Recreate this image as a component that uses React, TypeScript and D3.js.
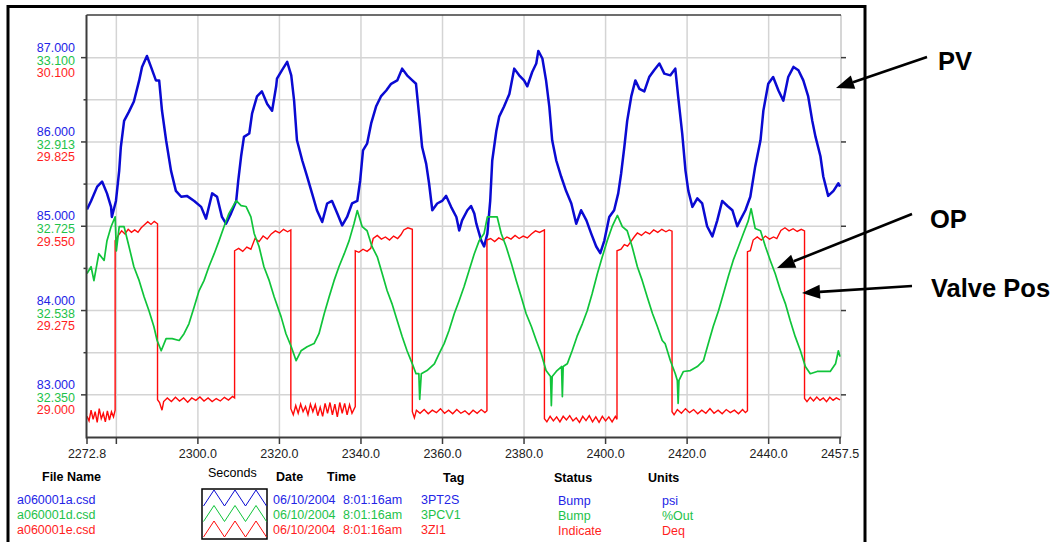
import React from 'react';
import * as d3 from 'd3';

// PV (psi)
const pvData: [number, number][] = [
  [2272.8, 85.2], [2273.8, 85.3], [2275.3, 85.47], [2276.5, 85.53], [2277.7, 85.39], [2278.7, 85.23],
  [2278.9, 85.11], [2279.9, 85.3], [2280.7, 85.66], [2281.1, 85.94], [2281.9, 86.25], [2283.1, 86.36],
  [2284.3, 86.48], [2285.6, 86.73], [2286.3, 86.89], [2287.5, 87.02], [2288.5, 86.89], [2289.7, 86.73],
  [2290.5, 86.73], [2291.2, 86.37], [2292.2, 86.02], [2293.4, 85.66], [2294.6, 85.42], [2295.9, 85.35],
  [2297.3, 85.36], [2299.1, 85.3], [2300.8, 85.23], [2302.0, 85.09], [2303.5, 85.39], [2304.7, 85.35],
  [2305.9, 85.11], [2306.9, 85.03], [2308.1, 85.15], [2309.4, 85.3], [2309.9, 85.54], [2310.6, 85.83],
  [2311.3, 86.06], [2312.6, 86.1], [2313.3, 86.34], [2314.5, 86.54], [2315.7, 86.6], [2317.0, 86.45],
  [2318.2, 86.37], [2319.2, 86.66], [2319.4, 86.75], [2320.6, 86.85], [2321.9, 86.95], [2322.9, 86.79],
  [2323.6, 86.49], [2324.3, 86.02], [2325.6, 85.78], [2326.8, 85.59], [2328.0, 85.39], [2329.2, 85.19],
  [2330.5, 85.05], [2331.7, 85.27], [2332.9, 85.3], [2334.2, 85.15], [2335.4, 85.01], [2336.6, 85.11],
  [2337.8, 85.27], [2339.1, 85.3], [2339.8, 85.54], [2340.5, 85.9], [2341.5, 85.98], [2342.5, 86.22],
  [2343.7, 86.42], [2344.9, 86.54], [2346.2, 86.61], [2347.4, 86.69], [2348.9, 86.73], [2350.1, 86.87],
  [2351.3, 86.79], [2352.6, 86.73], [2353.5, 86.69], [2354.3, 86.3], [2355.0, 85.94], [2356.0, 85.74],
  [2356.7, 85.51], [2357.5, 85.19], [2358.7, 85.27], [2359.9, 85.3], [2360.9, 85.36], [2362.1, 85.23],
  [2363.4, 85.11], [2364.1, 84.95], [2364.8, 85.07], [2366.1, 85.19], [2367.0, 85.24], [2367.8, 85.15],
  [2368.3, 85.03], [2369.5, 84.83], [2370.2, 84.76], [2371.0, 84.91], [2371.7, 85.3], [2372.2, 85.78],
  [2373.2, 86.13], [2373.9, 86.3], [2375.1, 86.42], [2376.4, 86.57], [2377.6, 86.87], [2378.8, 86.79],
  [2380.0, 86.73], [2380.8, 86.66], [2382.0, 86.83], [2383.0, 86.93], [2383.5, 87.08], [2384.5, 86.99],
  [2385.4, 86.73], [2386.2, 86.42], [2386.9, 86.02], [2387.9, 85.78], [2389.1, 85.59], [2390.3, 85.42],
  [2391.6, 85.27], [2392.8, 85.03], [2394.0, 85.19], [2395.3, 85.07], [2396.5, 84.91], [2397.7, 84.76],
  [2398.7, 84.68], [2399.7, 84.83], [2400.9, 85.11], [2402.1, 85.19], [2403.1, 85.39], [2403.8, 85.62],
  [2404.6, 85.94], [2405.3, 86.25], [2406.3, 86.54], [2407.3, 86.73], [2408.3, 86.63], [2409.5, 86.6],
  [2410.7, 86.77], [2411.9, 86.85], [2413.2, 86.93], [2414.4, 86.81], [2415.9, 86.79], [2417.1, 86.87],
  [2417.8, 86.54], [2418.8, 86.1], [2419.6, 85.66], [2420.3, 85.42], [2421.3, 85.23], [2422.5, 85.33],
  [2423.7, 85.27], [2424.9, 85.0], [2426.2, 84.88], [2427.4, 85.07], [2428.6, 85.3], [2429.9, 85.24],
  [2431.1, 85.19], [2432.3, 85.0], [2433.0, 85.07], [2434.3, 85.19], [2435.5, 85.35], [2436.7, 85.71],
  [2438.0, 86.02], [2438.7, 86.37], [2439.9, 86.69], [2441.1, 86.77], [2442.4, 86.61], [2443.6, 86.49],
  [2444.8, 86.77], [2446.1, 86.89], [2447.3, 86.85], [2448.5, 86.73], [2449.7, 86.54], [2450.7, 86.25],
  [2451.5, 86.06], [2452.7, 85.83], [2453.4, 85.59], [2454.6, 85.36], [2455.9, 85.42], [2457.1, 85.51],
  [2457.5, 85.47],
];

// OP (%Out)
const opData: [number, number][] = [
  [2272.8, 32.62], [2273.8, 32.635], [2274.5, 32.604], [2275.7, 32.664], [2277.0, 32.649], [2277.7, 32.693],
  [2278.7, 32.724], [2279.7, 32.746], [2280.0, 32.67], [2280.7, 32.724], [2281.9, 32.724], [2283.1, 32.68],
  [2284.3, 32.635], [2285.6, 32.604], [2286.8, 32.568], [2288.0, 32.537], [2289.2, 32.502], [2290.0, 32.471],
  [2291.0, 32.448], [2292.2, 32.475], [2293.7, 32.475], [2295.4, 32.471], [2296.6, 32.486], [2297.8, 32.508],
  [2299.1, 32.546], [2300.3, 32.582], [2301.5, 32.604], [2302.7, 32.635], [2304.0, 32.664], [2305.2, 32.693],
  [2306.4, 32.724], [2307.6, 32.753], [2309.4, 32.782], [2310.6, 32.771], [2311.8, 32.769], [2313.0, 32.746],
  [2313.8, 32.709], [2315.0, 32.68], [2316.2, 32.635], [2317.5, 32.604], [2318.7, 32.568], [2320.4, 32.524],
  [2321.6, 32.486], [2322.9, 32.457], [2324.1, 32.426], [2325.3, 32.448], [2326.8, 32.457], [2328.5, 32.464],
  [2329.7, 32.486], [2331.0, 32.531], [2332.2, 32.568], [2333.4, 32.604], [2334.6, 32.635], [2335.9, 32.664],
  [2337.1, 32.693], [2338.3, 32.731], [2339.1, 32.76], [2340.3, 32.724], [2341.5, 32.715], [2342.7, 32.68],
  [2344.0, 32.657], [2345.2, 32.62], [2346.4, 32.582], [2347.6, 32.553], [2348.9, 32.515], [2350.1, 32.48],
  [2351.3, 32.448], [2352.6, 32.419], [2353.5, 32.397], [2354.2, 32.397], [2354.4, 32.34], [2354.8, 32.397],
  [2356.2, 32.404], [2358.0, 32.419], [2359.2, 32.442], [2360.4, 32.464], [2361.6, 32.493], [2362.9, 32.531],
  [2364.1, 32.56], [2365.3, 32.591], [2366.5, 32.626], [2367.8, 32.664], [2369.0, 32.693], [2370.2, 32.709],
  [2371.0, 32.746], [2372.2, 32.746], [2373.4, 32.746], [2374.4, 32.709], [2375.6, 32.68], [2376.9, 32.642],
  [2378.1, 32.604], [2379.3, 32.568], [2380.5, 32.531], [2381.8, 32.502], [2383.0, 32.471], [2384.2, 32.442],
  [2385.4, 32.404], [2386.5, 32.391], [2386.7, 32.326], [2386.9, 32.391], [2387.9, 32.402], [2389.2, 32.413],
  [2389.4, 32.346], [2389.6, 32.413], [2390.6, 32.419], [2391.8, 32.448], [2393.0, 32.48], [2394.3, 32.508],
  [2395.5, 32.537], [2396.7, 32.575], [2398.0, 32.62], [2399.2, 32.657], [2400.4, 32.693], [2401.6, 32.724],
  [2402.9, 32.749], [2404.1, 32.724], [2405.3, 32.715], [2406.5, 32.68], [2407.8, 32.635], [2409.0, 32.604],
  [2410.2, 32.568], [2411.5, 32.531], [2412.7, 32.502], [2413.9, 32.471], [2414.6, 32.464], [2415.9, 32.426],
  [2417.1, 32.397], [2417.6, 32.382], [2417.8, 32.331], [2418.0, 32.382], [2419.1, 32.402], [2420.8, 32.404],
  [2422.5, 32.413], [2424.0, 32.426], [2425.2, 32.464], [2426.4, 32.502], [2427.7, 32.537], [2428.9, 32.575],
  [2430.1, 32.613], [2431.3, 32.649], [2432.6, 32.68], [2433.8, 32.709], [2435.0, 32.737], [2435.7, 32.764],
  [2436.7, 32.72], [2438.0, 32.715], [2439.2, 32.68], [2440.4, 32.649], [2441.6, 32.62], [2442.9, 32.582],
  [2444.1, 32.553], [2445.3, 32.515], [2446.5, 32.48], [2447.8, 32.448], [2449.0, 32.413], [2450.2, 32.397],
  [2451.9, 32.402], [2453.4, 32.402], [2455.1, 32.402], [2456.4, 32.419], [2457.1, 32.448], [2457.5, 32.435],
];

// Valve position (Deg) – steps with the visible jitter of the trace
const valveData: [number, number][] = [
  [2272.8, 28.93], [2273.3, 28.915], [2273.8, 28.95], [2274.3, 28.92], [2274.8, 28.945], [2275.3, 28.91],
  [2275.8, 28.955], [2276.3, 28.922], [2276.8, 28.94], [2277.3, 28.912], [2277.8, 28.948], [2278.3, 28.918],
  [2278.8, 28.945], [2279.3, 28.928], [2279.7, 28.95], [2279.7, 29.503],
  [2280.5, 29.52], [2281.3, 29.535], [2282.1, 29.525], [2282.9, 29.54], [2283.7, 29.53], [2284.5, 29.538],
  [2285.3, 29.53], [2286.1, 29.545], [2286.9, 29.555], [2287.7, 29.565], [2288.5, 29.556], [2289.3, 29.566],
  [2290.1, 29.558], [2290.1, 28.984],
  [2290.6, 28.975], [2291.2, 28.95], [2291.6, 28.978], [2292.5, 28.99], [2293.5, 28.978], [2294.5, 28.992],
  [2295.5, 28.98], [2296.5, 28.99], [2297.5, 28.976], [2298.5, 28.99], [2299.5, 28.982], [2300.5, 28.993],
  [2301.5, 28.98], [2302.5, 28.99], [2303.5, 28.978], [2304.5, 28.988], [2305.5, 28.98], [2306.5, 28.992],
  [2307.5, 28.983], [2308.5, 28.995], [2309.0, 28.99], [2309.0, 29.47],
  [2310.0, 29.478], [2311.0, 29.468], [2312.0, 29.482], [2313.0, 29.475], [2314.0, 29.51], [2315.0, 29.5],
  [2316.0, 29.518], [2317.0, 29.508], [2318.0, 29.525], [2319.0, 29.535], [2320.0, 29.528], [2321.0, 29.54],
  [2322.0, 29.532], [2322.8, 29.538], [2322.8, 28.955],
  [2323.4, 28.935], [2324.0, 28.965], [2324.6, 28.94], [2325.2, 28.97], [2325.8, 28.945], [2326.4, 28.962],
  [2327.0, 28.935], [2327.6, 28.97], [2328.2, 28.945], [2328.8, 28.968], [2329.4, 28.932], [2330.0, 28.96],
  [2330.6, 28.93], [2331.2, 28.972], [2331.8, 28.94], [2332.4, 28.975], [2333.0, 28.935], [2333.6, 28.97],
  [2334.2, 28.928], [2334.8, 28.975], [2335.4, 28.94], [2336.0, 28.972], [2336.6, 28.935], [2337.2, 28.968],
  [2337.8, 28.94], [2338.6, 28.962], [2338.6, 29.47],
  [2339.5, 29.465], [2340.5, 29.475], [2341.5, 29.468], [2342.4, 29.478], [2343.0, 29.51], [2344.0, 29.52],
  [2345.0, 29.508], [2346.0, 29.515], [2347.0, 29.505], [2348.0, 29.518], [2349.0, 29.51], [2349.8, 29.522],
  [2350.5, 29.538], [2351.5, 29.545], [2352.6, 29.54], [2352.6, 28.945],
  [2353.1, 28.925], [2353.6, 28.95], [2354.5, 28.94], [2355.5, 28.952], [2356.5, 28.938], [2357.5, 28.95],
  [2358.5, 28.942], [2359.5, 28.955], [2360.5, 28.94], [2361.5, 28.95], [2362.5, 28.938], [2363.5, 28.952],
  [2364.5, 28.94], [2365.5, 28.948], [2366.5, 28.936], [2367.5, 28.95], [2368.5, 28.94], [2369.5, 28.952],
  [2370.4, 28.942], [2370.9, 28.948], [2370.9, 29.505],
  [2371.8, 29.51], [2372.8, 29.5], [2373.8, 29.512], [2374.8, 29.505], [2375.8, 29.515], [2376.8, 29.508],
  [2377.8, 29.52], [2378.8, 29.51], [2379.8, 29.518], [2380.8, 29.512], [2381.8, 29.525], [2382.8, 29.535],
  [2383.8, 29.53], [2385.0, 29.538], [2385.0, 28.922],
  [2385.6, 28.912], [2386.4, 28.93], [2387.2, 28.915], [2388.0, 28.928], [2388.8, 28.912], [2389.6, 28.93],
  [2390.4, 28.918], [2391.2, 28.932], [2392.0, 28.915], [2392.8, 28.925], [2393.6, 28.91], [2394.4, 28.93],
  [2395.2, 28.916], [2396.0, 28.932], [2396.8, 28.912], [2397.6, 28.928], [2398.4, 28.91], [2399.2, 28.93],
  [2400.0, 28.915], [2400.8, 28.928], [2401.6, 28.912], [2402.4, 28.93], [2402.8, 28.92], [2402.8, 29.47],
  [2403.8, 29.475], [2404.6, 29.49], [2405.4, 29.485], [2406.2, 29.5], [2407.0, 29.515], [2407.8, 29.528],
  [2408.8, 29.52], [2409.8, 29.532], [2410.8, 29.525], [2411.8, 29.538], [2412.8, 29.53], [2413.8, 29.54],
  [2414.8, 29.532], [2415.6, 29.538], [2416.3, 29.534], [2416.3, 28.945],
  [2416.8, 28.935], [2417.6, 28.952], [2418.6, 28.94], [2419.6, 28.955], [2420.6, 28.942], [2421.6, 28.952],
  [2422.6, 28.938], [2423.6, 28.95], [2424.6, 28.94], [2425.6, 28.955], [2426.6, 28.94], [2427.6, 28.95],
  [2428.6, 28.938], [2429.6, 28.952], [2430.6, 28.942], [2431.6, 28.95], [2432.6, 28.938], [2433.6, 28.952],
  [2434.3, 28.942], [2434.8, 28.948], [2434.8, 29.467],
  [2435.5, 29.47], [2436.2, 29.505], [2437.2, 29.515], [2438.2, 29.505], [2439.2, 29.518], [2440.2, 29.508],
  [2441.2, 29.515], [2442.0, 29.51], [2443.0, 29.536], [2444.0, 29.545], [2445.0, 29.535], [2446.0, 29.542],
  [2447.0, 29.533], [2448.0, 29.54], [2448.8, 29.535], [2448.8, 28.988],
  [2449.4, 28.978], [2450.2, 28.992], [2451.0, 28.98], [2451.8, 28.993], [2452.6, 28.982], [2453.4, 28.99],
  [2454.2, 28.978], [2455.0, 28.992], [2455.8, 28.982], [2456.6, 28.99], [2457.5, 28.984],
];

const xTicks = [2272.8, 2280, 2300, 2320, 2340, 2360, 2380, 2400, 2420, 2440, 2457.5];
const xGrid = [2280, 2300, 2320, 2340, 2360, 2380, 2400, 2420, 2440];
const unlabeledX = [2280];
const pvTicks = [83, 84, 85, 86, 87];
const opTicks = [32.35, 32.538, 32.725, 32.913, 33.1];
const valveTicks = [29.0, 29.275, 29.55, 29.825, 30.1];

const fileNames = ['a060001a.csd', 'a060001d.csd', 'a060001e.csd'];
const dates = ['06/10/2004', '06/10/2004', '06/10/2004'];
const times = ['8:01:16am', '8:01:16am', '8:01:16am'];
const tags = ['3PT2S', '3PCV1', '3ZI1'];
const statuses = ['Bump', 'Bump', 'Indicate'];
const units = ['psi', '%Out', 'Deq'];

const lineColors = ['#0a0ad2', '#10c43a', '#ff0a0a'];
const textColors = ['#2424e6', '#1ec24a', '#ff1e1e'];

const FONT = '"Liberation Sans", Arial, sans-serif';

const Arrow = ({ x1, y1, x2, y2 }: { x1: number; y1: number; x2: number; y2: number }) => {
  const a = Math.atan2(y2 - y1, x2 - x1);
  const len = 18, half = 7;
  const bx = x2 - len * Math.cos(a), by = y2 - len * Math.sin(a);
  const p1 = [bx + half * Math.sin(a), by - half * Math.cos(a)];
  const p2 = [bx - half * Math.sin(a), by + half * Math.cos(a)];
  return (
    <g>
      <line x1={x1} y1={y1} x2={bx} y2={by} stroke="#000" strokeWidth={2.6} />
      <polygon points={`${x2},${y2} ${p1.join(',')} ${p2.join(',')}`} fill="#000" />
    </g>
  );
};

export default function App() {
  const left = 86.5, right = 841, top = 15, bottom = 437.5;
  const x = d3.scaleLinear().domain([2272.8, 2457.5]).range([87, 840]);
  const yPV = d3.scaleLinear().domain([82.5, 87.5]).range([437, 15.5]);
  const yOP = d3.scaleLinear().domain([32.35, 33.1]).range([yPV(83), yPV(87)]);
  const yValve = d3.scaleLinear().domain([29.0, 30.1]).range([yPV(83), yPV(87)]);

  const lineFor = (y: d3.ScaleLinear<number, number>) =>
    d3.line<[number, number]>().x(d => x(d[0])).y(d => y(d[1]));

  const hGrid = d3.range(83, 87.01, 0.5);

  // legend swatch: three small zigzags
  const zig = (row: number) => {
    const y0 = 490 + row * 15.5;
    const pts: [number, number][] = [];
    for (let i = 0; i <= 6; i++) pts.push([203.5 + i * 10.5, i % 2 === 0 ? y0 + 16 : y0]);
    return d3.line()(pts) || '';
  };

  const rowY = (i: number) => 503.5 + i * 15;

  return (
    <svg width={1057} height={542} style={{ position: 'absolute', left: 0, top: 0, background: '#fff' }}
      fontFamily={FONT}>
      <rect x={0} y={0} width={1057} height={542} fill="#fff" />
      {/* outer frame */}
      <rect x={8} y={6.5} width={857} height={545} fill="none" stroke="#000" strokeWidth={3} />

      {/* grid */}
      {xGrid.map(t => (
        <line key={'vg' + t} x1={x(t)} x2={x(t)} y1={top} y2={bottom} stroke="#d4d4d4" strokeWidth={1.5} />
      ))}
      {hGrid.map(v => (
        <line key={'hg' + v} x1={left} x2={right} y1={yPV(v)} y2={yPV(v)} stroke="#d4d4d4" strokeWidth={1.5} />
      ))}
      <line x1={right} x2={right} y1={top} y2={bottom} stroke="#c8c8c8" strokeWidth={1.5} />

      {/* series */}
      <path d={lineFor(yPV)(pvData) || ''} fill="none" stroke={lineColors[0]} strokeWidth={2.5} strokeLinejoin="round" />
      <path d={lineFor(yValve)(valveData) || ''} fill="none" stroke={lineColors[2]} strokeWidth={1.4} />
      <path d={lineFor(yOP)(opData) || ''} fill="none" stroke={lineColors[1]} strokeWidth={1.7} strokeLinejoin="round" />

      {/* axes */}
      <line x1={left} x2={right} y1={top} y2={top} stroke="#3c3c3c" strokeWidth={1.5} />
      <line x1={left} x2={left} y1={top} y2={bottom + 1} stroke="#3c3c3c" strokeWidth={2} />
      <line x1={left} x2={right} y1={bottom} y2={bottom} stroke="#3c3c3c" strokeWidth={2} />
      {hGrid.map(v => {
        const major = Number.isInteger(v);
        return (
          <g key={'tk' + v}>
            <line x1={major ? 81 : 83.5} x2={left} y1={yPV(v)} y2={yPV(v)} stroke="#3c3c3c" strokeWidth={1.5} />
            {major && <line x1={right} x2={right + 5} y1={yPV(v)} y2={yPV(v)} stroke="#3c3c3c" strokeWidth={1.5} />}
          </g>
        );
      })}
      {xTicks.map(t => (
        <g key={'xt' + t}>
          <line x1={x(t)} x2={x(t)} y1={bottom} y2={444} stroke="#3c3c3c" strokeWidth={1.5} />
          {!unlabeledX.includes(t) && (
            <text x={x(t)} y={458} textAnchor="middle" fontSize={12.5} fill="#222">{t.toFixed(1)}</text>
          )}
        </g>
      ))}

      {/* stacked y labels */}
      {pvTicks.map((v, i) => {
        const yy = yPV(v);
        return (
          <g key={'yl' + v} fontSize={12.5} textAnchor="end">
            <text x={75} y={yy - 6} fill={textColors[0]}>{v.toFixed(3)}</text>
            <text x={75} y={yy + 7} fill={textColors[1]}>{opTicks[i].toFixed(3)}</text>
            <text x={75} y={yy + 19.5} fill={textColors[2]}>{valveTicks[i].toFixed(3)}</text>
          </g>
        );
      })}

      {/* legend table */}
      <g fontSize={12.5} fontWeight="bold" fill="#000">
        <text x={42} y={481}>File Name</text>
        <text x={276} y={481}>Date</text>
        <text x={327} y={481}>Time</text>
        <text x={443} y={482}>Tag</text>
        <text x={554} y={482}>Status</text>
        <text x={648} y={482}>Units</text>
      </g>
      <text x={208} y={477} fontSize={12.5} fill="#000">Seconds</text>
      <rect x={202} y={489} width={65} height={50} fill="#fff" stroke="#000" strokeWidth={1.5} />
      {[0, 1, 2].map(i => (
        <path key={'zz' + i} d={zig(i)} fill="none" stroke={lineColors[i]} strokeWidth={1} />
      ))}
      {[0, 1, 2].map(i => (
        <g key={'row' + i} fontSize={12.5} fill={textColors[i]}>
          <text x={17} y={rowY(i)}>{fileNames[i]}</text>
          <text x={273} y={rowY(i) + 0.5}>{dates[i]}</text>
          <text x={343} y={rowY(i) + 0.5}>{times[i]}</text>
          <text x={421} y={rowY(i)}>{tags[i]}</text>
          <text x={558} y={rowY(i) + 1}>{statuses[i]}</text>
          <text x={662} y={rowY(i) + 1}>{units[i]}</text>
        </g>
      ))}

      {/* annotations */}
      <g fontSize={25.5} fontWeight="bold" fill="#000">
        <text x={938} y={70}>PV</text>
        <text x={930} y={228}>OP</text>
        <text x={931} y={297}>Valve Pos</text>
      </g>
      <Arrow x1={927} y1={57} x2={836} y2={88} />
      <Arrow x1={912} y1={214} x2={777} y2={268} />
      <Arrow x1={912} y1={286} x2={802} y2={293} />
    </svg>
  );
}
